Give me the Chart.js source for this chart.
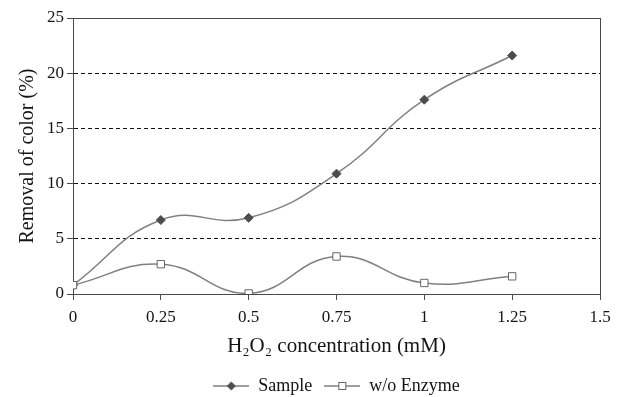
<!DOCTYPE html>
<html>
<head>
<meta charset="utf-8">
<script src="https://cdn.jsdelivr.net/npm/chart.js@4/dist/chart.umd.min.js"></script>
<style>
  html, body { margin: 0; padding: 0; background: #fff; }
</style>
</head>
<body>
<canvas id="chart" width="619" height="397"></canvas>
<script>
// data
const concentrations = [0, 0.25, 0.5, 0.75, 1, 1.25];
const sampleValues = [0.8, 6.7, 6.9, 10.9, 17.6, 21.6];
const noEnzymeValues = [0.8, 2.7, 0.05, 3.4, 1.0, 1.6];
const seriesNames = ['Sample', 'w/o Enzyme'];
const xTicks = [0, 0.25, 0.5, 0.75, 1, 1.25, 1.5];
const yTicks = [0, 5, 10, 15, 20, 25];

const serif = '"Liberation Serif", "Times New Roman", serif';
const textColor = '#141414';
const axisColor = '#4a4a4a';
const lineGray = '#808080';

// small "line + marker" glyphs for the legend
function legendIcon(kind) {
  const c = document.createElement('canvas');
  c.width = 36;
  c.height = 12;
  const g = c.getContext('2d');
  g.strokeStyle = lineGray;
  g.lineWidth = 1.5;
  g.beginPath();
  g.moveTo(0, 6);
  g.lineTo(36, 6);
  g.stroke();
  if (kind === 'diamond') {
    g.fillStyle = '#4d4d4d';
    g.beginPath();
    g.moveTo(18, 1.5);
    g.lineTo(22.5, 6);
    g.lineTo(18, 10.5);
    g.lineTo(13.5, 6);
    g.closePath();
    g.fill();
  } else {
    g.fillStyle = '#fff';
    g.strokeStyle = '#666';
    g.lineWidth = 1;
    g.fillRect(14.5, 2.5, 7, 7);
    g.strokeRect(14.5, 2.5, 7, 7);
  }
  return c;
}
const icons = [legendIcon('diamond'), legendIcon('square')];

const toPoints = (vals) => vals.map((v, i) => ({ x: concentrations[i], y: v }));

const ctx = document.getElementById('chart').getContext('2d');
const chart = new Chart(ctx, {
  type: 'scatter',
  data: {
    datasets: [
      {
        label: seriesNames[0],
        data: toPoints(sampleValues),
        showLine: true,
        tension: 0.45,
        borderColor: lineGray,
        borderWidth: 1.5,
        pointStyle: 'rectRot',
        pointRadius: 4.5,
        pointBackgroundColor: '#4d4d4d',
        pointBorderColor: '#4d4d4d',
        pointBorderWidth: 1,
        order: 1
      },
      {
        label: seriesNames[1],
        data: toPoints(noEnzymeValues),
        showLine: true,
        tension: 0.45,
        borderColor: lineGray,
        borderWidth: 1.5,
        pointStyle: 'rect',
        pointRadius: 5.2,
        pointBackgroundColor: '#fff',
        pointBorderColor: '#666',
        pointBorderWidth: 1,
        order: 0
      }
    ]
  },
  options: {
    responsive: false,
    animation: false,
    layout: {
      padding: { top: 18, right: 19, left: 0, bottom: -8 }
    },
    plugins: {
      tooltip: { enabled: false },
      legend: {
        position: 'bottom',
        fullSize: false,
        labels: {
          usePointStyle: true,
          pointStyleWidth: 36,
          padding: 12,
          color: textColor,
          font: { family: serif, size: 18 },
          generateLabels(chart) {
            const items = Chart.defaults.plugins.legend.labels.generateLabels(chart);
            items.sort((a, b) => a.datasetIndex - b.datasetIndex);
            items.forEach(it => { it.pointStyle = icons[it.datasetIndex]; });
            return items;
          }
        }
      }
    },
    scales: {
      x: {
        type: 'linear',
        min: 0,
        max: 1.5,
        afterBuildTicks: (scale) => { scale.ticks = xTicks.map(v => ({ value: v })); },
        afterFit: (scale) => { scale.height = 71; },
        ticks: {
          color: textColor,
          font: { family: serif, size: 17 },
          padding: 7,
          maxRotation: 0,
          callback: (v) => String(v)
        },
        grid: {
          drawOnChartArea: true,
          color: (c) => (c.tick && c.tick.value === 1.5 ? axisColor : 'rgba(0,0,0,0)'),
          tickColor: axisColor,
          tickLength: 6,
          lineWidth: 1
        },
        border: { color: axisColor, width: 1 },
        title: {
          display: true,
          text: 'H₂O₂ concentration (mM)',
          color: textColor,
          font: { family: serif, size: 21 },
          padding: { top: 4, bottom: 6 }
        }
      },
      y: {
        min: 0,
        max: 25,
        afterBuildTicks: (scale) => { scale.ticks = yTicks.map(v => ({ value: v })); },
        afterFit: (scale) => { scale.width = 73; },
        ticks: {
          color: textColor,
          font: { family: serif, size: 17 },
          padding: 3,
          callback: (v) => String(v)
        },
        grid: {
          color: (c) => {
            if (!c.tick) return 'rgba(0,0,0,0)';
            if (c.tick.value === 0) return 'rgba(0,0,0,0)';
            if (c.tick.value === 25) return axisColor;
            return '#111';
          },
          tickColor: axisColor,
          tickLength: 6,
          lineWidth: 1
        },
        border: {
          color: axisColor,
          width: 1,
          dash: (c) => (c.tick && c.tick.value > 0 && c.tick.value < 25 ? [4, 3] : [])
        },
        title: {
          display: true,
          text: 'Removal of color (%)',
          color: textColor,
          font: { family: serif, size: 20 },
          padding: { top: 16, bottom: 0 }
        }
      }
    }
  }
});
</script>
</body>
</html>
